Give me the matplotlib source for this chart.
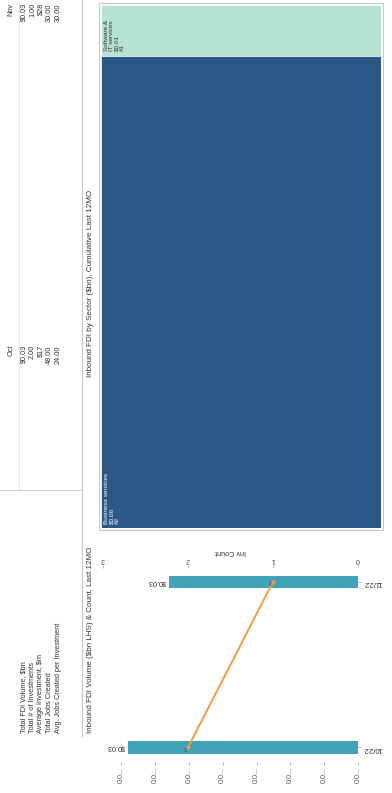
import matplotlib
matplotlib.use("Agg")
import matplotlib.pyplot as plt
from matplotlib.patches import Rectangle

plt.rcParams['font.family'] = ['Liberation Sans', 'DejaVu Sans']

# table data
months = ['Oct', 'Nov']
row_labels = ['Total FDI Volume, $bn', 'Total # of Investments', 'Average Investment, $m',
              'Total Jobs Created', 'Avg. Jobs Created per Investment']
oct_values = ['$0.03', '2.00', '$17', '48.00', '24.00']
nov_values = ['$0.03', '1.00', '$28', '30.00', '30.00']

# bar + line chart data
periods = ['10/22', '11/22']
fdi_volume = [0.034, 0.028]
inv_count = [2, 1]
vol_ticks = [0, 0.005, 0.01, 0.015, 0.02, 0.025, 0.03, 0.035]
count_ticks = [0, 1, 2, 3]

# treemap data
sectors = ['Software &\nIT services', 'Business services']
sector_volume = [0.006, 0.056]
sector_rank = ['#1', '#2']
sector_colors = ['#b6e2d3', '#2b5886']
sector_text = ['#333333', '#ffffff']

W, H = 392, 793
fig = plt.figure(figsize=(W / 100, H / 100), dpi=100)


def fx(x):
    return x / W


def fy(y):
    return 1 - y / H


def box(x0, y0, x1, y1):
    return [fx(x0), fy(y1), fx(x1) - fx(x0), fy(y0) - fy(y1)]


txt = '#333333'
grid = '#c8c8c8'

# ---- table (drawn rotated) ----
row_x = [24, 32.5, 41, 49.5, 58]
col_end = {'Nov': 3, 'Oct': 345}
col_vals = {'Oct': oct_values, 'Nov': nov_values}
for m in months:
    fig.text(fx(11), fy(col_end[m]), m, rotation=90, rotation_mode='anchor',
             ha='right', va='center', fontsize=5.3, color=txt)
    for i, v in enumerate(col_vals[m]):
        fig.text(fx(row_x[i]), fy(col_end[m]), v, rotation=90, rotation_mode='anchor',
                 ha='right', va='center', fontsize=5.3, color=txt)
for i, lab in enumerate(row_labels):
    fig.text(fx(row_x[i]), fy(733), lab, rotation=90, rotation_mode='anchor',
             ha='left', va='center', fontsize=5.3, color=txt)

fig.add_artist(plt.Line2D([fx(82), fx(82)], [fy(0), fy(736)], color=grid, lw=0.8))
fig.add_artist(plt.Line2D([fx(19), fx(19)], [fy(0), fy(490)], color='#e4e4e4', lw=0.6))
fig.add_artist(plt.Line2D([fx(0), fx(82)], [fy(490), fy(490)], color=grid, lw=0.6))

# titles
fig.text(fx(91), fy(377), 'Inbound FDI by Sector ($bn), Cumulative Last 12MO', rotation=90,
         rotation_mode='anchor', ha='left', va='center', fontsize=5.8, color=txt)
fig.text(fx(91), fy(733), 'Inbound FDI Volume ($bn LHS) & Count, Last 12MO', rotation=90,
         rotation_mode='anchor', ha='left', va='center', fontsize=5.8, color=txt)

# ---- treemap ----
axt = fig.add_axes(box(101, 5, 381, 528))
bottom = 0
for name, val, rank, col, tcol in zip(sectors, sector_volume, sector_rank, sector_colors, sector_text):
    axt.bar(0, val, bottom=bottom, width=1, color=col, edgecolor='white', linewidth=0.5)
    axt.annotate(f'{name}\n${val:.2f}\n{rank}', xy=(-0.5, bottom + val), xytext=(2, 3),
                 textcoords='offset points', rotation=90, rotation_mode='anchor',
                 ha='left', va='top', fontsize=4.6, color=tcol, linespacing=1.1)
    bottom += val
axt.set_xlim(-0.5, 0.5)
axt.set_ylim(bottom, 0)
axt.set_xticks([])
axt.set_yticks([])
for s in axt.spines.values():
    s.set_visible(False)
fig.add_artist(Rectangle((fx(99), fy(530)), fx(383) - fx(99), fy(3) - fy(530),
                         fill=False, edgecolor=grid, lw=0.8))

# ---- bar + line chart (rotated) ----
ypos = list(range(len(periods)))
ax = fig.add_axes(box(103, 568, 358, 762))
ax.barh(ypos, fdi_volume, height=0.075, color='#41a3b7')
for y, v in zip(ypos, fdi_volume):
    ax.annotate(f'${v:.2f}', xy=(v, y), xytext=(-2, 0), textcoords='offset points',
                rotation=180, ha='right', va='center', fontsize=5.2, color=txt)
ax.set_xlim(0.0377, 0)
ax.set_ylim(-0.088, 1.084)
ax.set_xticks(vol_ticks)
ax.set_xticklabels(['0.0...'] * len(vol_ticks), rotation=90, fontsize=5.2, color='#555555')
ax.yaxis.tick_right()
ax.set_yticks(ypos)
ax.set_yticklabels(periods, rotation=180, fontsize=5.6, color=txt)
ax.tick_params(length=2, width=0.5, color='#999999', pad=1.5)
for s in ax.spines.values():
    s.set_visible(False)

ax2 = ax.twiny()
ax2.plot(inv_count, ypos, color='#f39c3c', lw=1.4, marker='o', ms=2)
for y, c in zip(ypos, inv_count):
    ax2.annotate(str(c), xy=(c, y), xytext=(-3, 0), textcoords='offset points',
                 rotation=180, ha='left', va='center', fontsize=3.5, color='#7a1f3d')
ax2.set_xlim(3, 0)
ax2.set_xticks(count_ticks)
ax2.set_xticklabels([str(t) for t in count_ticks], rotation=180, fontsize=5.2, color='#555555')
ax2.set_xlabel('Inv Count', rotation=180, fontsize=5.2, color=txt, labelpad=2)
ax2.tick_params(length=2, width=0.5, color='#999999', pad=1.5)
for s in ax2.spines.values():
    s.set_visible(False)

fig.savefig('out.png', dpi=100, facecolor='white')
